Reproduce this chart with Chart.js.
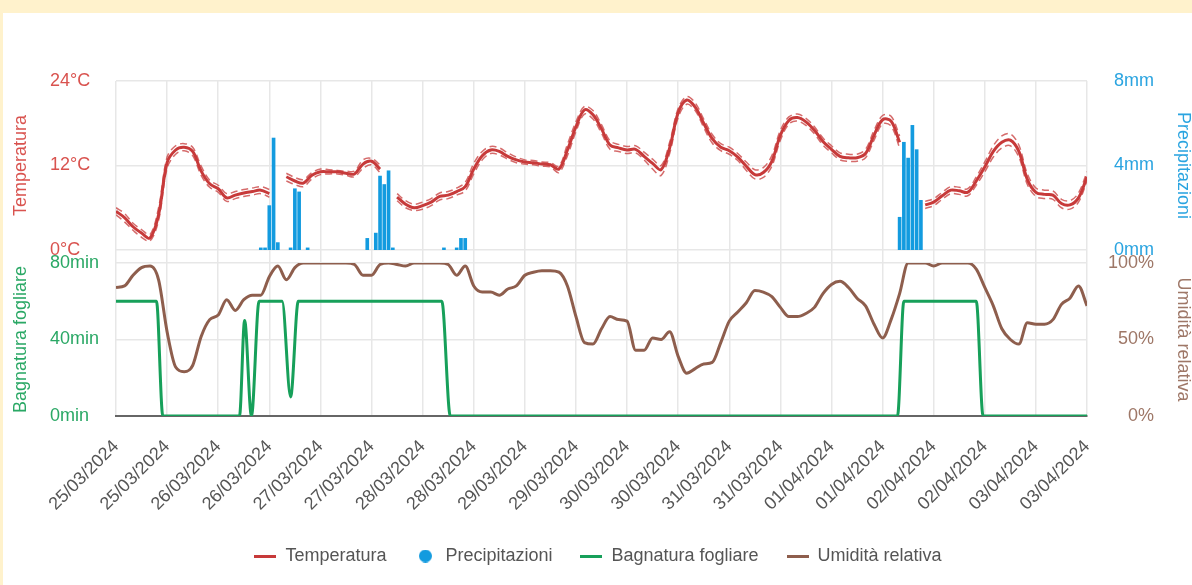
<!DOCTYPE html>
<html>
<head>
<meta charset="utf-8">
<script src="https://cdn.jsdelivr.net/npm/chart.js@4.4.1/dist/chart.umd.min.js"></script>
<style>
html,body{margin:0;padding:0;background:#fff2cc;width:1192px;height:585px;overflow:hidden;}
#panel{position:absolute;left:3px;top:13px;width:1189px;height:572px;background:#ffffff;}
canvas{display:block;}
</style>
</head>
<body>
<div id="panel"><canvas id="c" width="1189" height="572"></canvas></div>
<script>
// ---- x axis (hours since 25/03/2024 00:00) ----
const tickHours = [0,12,24,36,48,60,72,84,96,108,120,132,144,156,168,180,192,204,216,228];
const tickLabels = ['25/03/2024','25/03/2024','26/03/2024','26/03/2024','27/03/2024','27/03/2024','28/03/2024','28/03/2024','29/03/2024','29/03/2024','30/03/2024','30/03/2024','31/03/2024','31/03/2024','01/04/2024','01/04/2024','02/04/2024','02/04/2024','03/04/2024','03/04/2024'];
const STEP_H = 2; // readings every 2 hours

// ---- temperature (°C) ----
const temperature = [5.5,4.6,3.3,2.4,1.7,5.0,12.4,14.2,14.6,14.0, 11.2,9.4,8.7,7.4,7.8,8.1,8.3,8.5,8.0,null, 10.4,9.8,9.5,10.6,11.1,11.1,11.1,10.9,10.8,12.2, 12.6,11.5,null,7.5,6.5,6.0,6.3,6.8,7.6,7.8, 8.3,9.0,11.5,13.4,14.2,14.0,13.3,12.8,12.5,12.4, 12.2,12.1,11.5,14.2,17.5,19.9,19.2,17.2,14.9,14.5, 14.2,14.3,13.3,12.3,11.4,14.5,19.5,21.3,20.3,18.0, 15.8,14.6,14.1,13.2,11.9,10.7,11.0,12.6,16.3,18.4, 18.8,18.2,17.0,15.4,14.3,13.3,13.1,13.1,13.7,16.3, 18.5,18.3,15.3,null,null,6.4,6.8,7.7,8.5,8.4, 8.2,9.8,11.8,14.0,15.3,15.6,14.0,10.0,8.2,7.9, 7.8,6.6,6.4,7.4,10.4];
const temperatureHigh = [6.0,5.2,3.8,2.9,2.2,6.0,13.2,14.8,15.1,14.6, 11.9,9.9,9.2,8.0,8.3,8.6,8.8,9.0,8.6,null, 10.9,10.3,10.0,11.0,11.5,11.4,11.3,11.2,11.2,12.8, 13.0,12.1,null,8.0,7.0,6.5,6.8,7.3,8.1,8.3, 8.8,9.6,12.3,14.0,14.7,14.5,13.8,13.2,12.8,12.7, 12.5,12.4,11.9,15.0,18.2,20.4,19.8,17.8,15.5,15.0, 14.7,14.8,13.9,12.9,12.0,15.3,20.1,21.8,20.9,18.6, 16.4,15.1,14.6,13.7,12.5,11.4,11.7,13.4,17.0,18.9, 19.3,18.7,17.5,15.9,14.8,13.8,13.6,13.6,14.3,17.0, 19.1,19.0,16.2,null,null,6.9,7.3,8.2,9.0,8.9, 8.7,10.4,12.5,14.8,16.2,16.5,14.9,10.8,8.8,8.5, 8.4,7.2,7.0,8.1,11.1];
const temperatureLow = [5.0,4.0,2.8,1.8,1.3,4.2,11.6,13.6,14.1,13.4, 10.6,8.9,8.2,6.9,7.3,7.6,7.8,8.0,7.5,null, 9.8,9.3,9.0,10.1,10.7,10.8,10.8,10.6,10.4,11.6, 12.1,11.0,null,7.0,6.0,5.6,5.8,6.3,7.1,7.3, 7.8,8.4,10.8,12.8,13.7,13.5,12.9,12.4,12.2,12.1, 11.9,11.8,11.0,13.4,16.8,19.3,18.6,16.6,14.3,14.0, 13.7,13.8,12.8,11.5,10.6,13.7,18.8,20.7,19.8,17.4, 15.2,14.1,13.6,12.7,11.3,10.1,10.3,11.9,15.6,17.9, 18.3,17.7,16.5,14.9,13.8,12.8,12.6,12.6,13.1,15.6, 17.9,17.6,14.5,null,null,5.9,6.3,7.2,8.0,7.9, 7.7,9.2,11.1,13.2,14.5,14.8,13.2,9.3,7.6,7.3, 7.2,6.0,5.8,6.8,9.8];

// ---- relative humidity (%) ----
const humidity = [84,85,92,97,98,89,55,32,29,33, 52,63,66,76,69,76,79,79,91,98, 89,97,100,100,100,100,100,100,99,92, 92,99,100,99,98,100,100,100,100,99, 92,98,85,81,81,79,83,85,92,94, 95,95,94,85,65,48,47,57,65,63, 62,43,43,51,50,55,39,28,31,34, 35,48,62,68,74,82,81,78,71,65, 65,67,71,80,86,88,84,77,72,60, 51,63,80,100,100,100,98,100,100,100, 100,96,84,72,57,50,47,61,60,60, 63,73,77,85,72];

// ---- rain (mm, hourly) ----
const rainHours  = [34,35,36,37,38,41,42,43,45,59,61,62,63,64,65,77,80,81,82,184,185,186,187,188,189];
const rainValues = [0.1,0.1,2.1,5.3,0.35,0.1,2.9,2.75,0.1,0.55,0.8,3.5,3.1,3.75,0.1,0.1,0.1,0.55,0.55,1.55,5.1,4.35,5.9,4.75,2.35];

// ---- leaf wetness (min) ----
const wetHours  = [0,9.5,11,29,30.2,31.8,33.6,39,41,42.8,76.5,78.5,183.5,185,202,203.6,228];
const wetValues = [60,60,0,0,50,0,60,60,10,60,60,0,0,60,60,0,0];

// ---- axis ticks ----
const tempTicks = [0,12,24];
const rainTicks = [0,4,8];
const wetTicks = [0,40,80];
const humTicks = [0,50,100];

const FAM = "'Liberation Sans', Arial, Helvetica, sans-serif";
const F18 = {family: FAM, size: 18};
const FT = {family: FAM, size: 18, lineHeight: 1};
const GRID = '#e7e7e7';
const C_TEMP = '#c73a3a', T_TEMP = '#d9534f';
const C_RAIN = '#139bdf', T_RAIN = '#2aa4e0';
const C_WET = '#17a05a', T_WET = '#2aa865';
const C_HUM = '#8e5e4d', T_HUM = '#9e7767';

const series = (arr) => arr.map((v, i) => ({x: i * STEP_H, y: v}));
const pairs = (xs, ys) => xs.map((x, i) => ({x: x, y: ys[i]}));

function lineIcon(color){const c=document.createElement('canvas');c.width=22;c.height=3;const g=c.getContext('2d');g.fillStyle=color;g.fillRect(0,0,22,3);return c;}
function dotIcon(color){const c=document.createElement('canvas');c.width=13;c.height=13;const g=c.getContext('2d');g.fillStyle=color;g.beginPath();g.arc(6.5,6.5,6.5,0,Math.PI*2);g.fill();return c;}

Chart.defaults.font.family = FAM;
Chart.defaults.font.size = 18;

const setTicks = (vals) => (s) => { s.ticks = vals.map(v => ({value: v})); };
const fixW = (w) => (s) => { s.width = w; };
const LW = 66, RW = 67;

// nudge the legend block a few pixels left so it is centred like the original
const legendNudge = {
  id: 'legendNudge',
  afterLayout(chart) {
    if (chart.legend) { chart.legend.left -= 4; chart.legend.right -= 4; }
  }
};

new Chart(document.getElementById('c'), {
  type: 'line',
  plugins: [legendNudge],
  data: {
    datasets: [
      {label: 'Temperatura', data: series(temperature), yAxisID: 'yTemp', borderColor: C_TEMP, backgroundColor: C_TEMP, borderWidth: 3, pointRadius: 0, tension: 0.35, spanGaps: false, legendIcon: lineIcon(C_TEMP)},
      {label: '_tmax', data: series(temperatureHigh), yAxisID: 'yTemp', borderColor: 'rgba(199,58,58,0.75)', borderWidth: 1.5, borderDash: [7,4], pointRadius: 0, tension: 0.35, spanGaps: false},
      {label: '_tmin', data: series(temperatureLow), yAxisID: 'yTemp', borderColor: 'rgba(199,58,58,0.75)', borderWidth: 1.5, borderDash: [7,4], pointRadius: 0, tension: 0.35, spanGaps: false},
      {type: 'bar', label: 'Precipitazioni', data: pairs(rainHours, rainValues), yAxisID: 'yPrec', backgroundColor: C_RAIN, borderWidth: 0, barThickness: 3, legendIcon: dotIcon(C_RAIN)},
      {label: 'Bagnatura fogliare', data: pairs(wetHours, wetValues), yAxisID: 'yWet', borderColor: C_WET, backgroundColor: C_WET, borderWidth: 3, pointRadius: 0, cubicInterpolationMode: 'monotone', legendIcon: lineIcon(C_WET)},
      {label: 'Umidità relativa', data: series(humidity), yAxisID: 'yHum', borderColor: C_HUM, backgroundColor: C_HUM, borderWidth: 3, pointRadius: 0, cubicInterpolationMode: 'monotone', legendIcon: lineIcon(C_HUM)}
    ]
  },
  options: {
    responsive: false,
    animation: false,
    events: [],
    layout: {padding: {top: 68, right: 38, bottom: 10, left: 47}},
    plugins: {
      tooltip: {enabled: false},
      legend: {
        position: 'bottom',
        labels: {
          usePointStyle: true, pointStyleWidth: 22, padding: 28, color: '#555', font: F18,
          generateLabels(chart) {
            const items = Chart.defaults.plugins.legend.labels.generateLabels(chart);
            return items.filter(it => !chart.data.datasets[it.datasetIndex].label.startsWith('_'))
              .map(it => Object.assign(it, {pointStyle: chart.data.datasets[it.datasetIndex].legendIcon}));
          }
        }
      }
    },
    scales: {
      x: {
        type: 'linear', min: 0, max: 228, offset: false,
        afterBuildTicks: setTicks(tickHours),
        afterFit: (s) => { s.height = 103; },
        ticks: {autoSkip: false, maxRotation: 45, minRotation: 45, padding: 20, color: '#555', font: F18,
                callback: (v, i) => tickLabels[i]},
        grid: {color: GRID, lineWidth: 1.5, drawTicks: false, offset: false},
        border: {display: true, color: '#666', width: 2}
      },
      yTemp: {
        type: 'linear', position: 'left', stack: 'L', stackWeight: 169, weight: 3, min: 0, max: 24,
        afterBuildTicks: setTicks(tempTicks), afterFit: fixW(LW),
        ticks: {crossAlign: 'far', padding: 10, color: T_TEMP, font: F18, callback: v => v + '°C'},
        grid: {color: GRID, lineWidth: 1.5, drawTicks: false},
        border: {display: false},
        title: {display: true, text: 'Temperatura', color: T_TEMP, font: FT, padding: {top: -38, bottom: 0}}
      },
      yGapL: {
        type: 'linear', position: 'left', stack: 'L', stackWeight: 13, weight: 2,
        afterFit: fixW(LW), ticks: {display: false}, grid: {display: false}, border: {display: false}
      },
      yWet: {
        type: 'linear', position: 'left', stack: 'L', stackWeight: 153, weight: 1, min: 0, max: 80,
        afterBuildTicks: setTicks(wetTicks), afterFit: fixW(LW),
        ticks: {crossAlign: 'far', padding: 10, color: T_WET, font: F18, callback: v => v + 'min'},
        grid: {color: (ctx) => (ctx.tick && ctx.tick.value === 0) ? 'rgba(0,0,0,0)' : GRID, lineWidth: 1.5, drawTicks: false},
        border: {display: false},
        title: {display: true, text: 'Bagnatura fogliare', color: T_WET, font: FT, padding: {top: -38, bottom: 0}}
      },
      yPrec: {
        type: 'linear', position: 'right', stack: 'R', stackWeight: 169, weight: 1, min: 0, max: 8,
        afterBuildTicks: setTicks(rainTicks), afterFit: fixW(RW),
        ticks: {crossAlign: 'far', padding: 10, color: T_RAIN, font: F18, callback: v => v + 'mm'},
        grid: {display: false, drawTicks: false},
        border: {display: false},
        title: {display: true, text: 'Precipitazioni', color: T_RAIN, font: FT, padding: {top: -38, bottom: 0}}
      },
      yGapR: {
        type: 'linear', position: 'right', stack: 'R', stackWeight: 13, weight: 2,
        afterFit: fixW(RW), ticks: {display: false}, grid: {display: false}, border: {display: false}
      },
      yHum: {
        type: 'linear', position: 'right', stack: 'R', stackWeight: 153, weight: 3, min: 0, max: 100,
        afterBuildTicks: setTicks(humTicks), afterFit: fixW(RW),
        ticks: {crossAlign: 'far', padding: 10, color: T_HUM, font: F18, callback: v => v + '%'},
        grid: {display: false, drawTicks: false},
        border: {display: false},
        title: {display: true, text: 'Umidità relativa', color: T_HUM, font: FT, padding: {top: -38, bottom: 0}}
      }
    }
  }
});
</script>
</body>
</html>
